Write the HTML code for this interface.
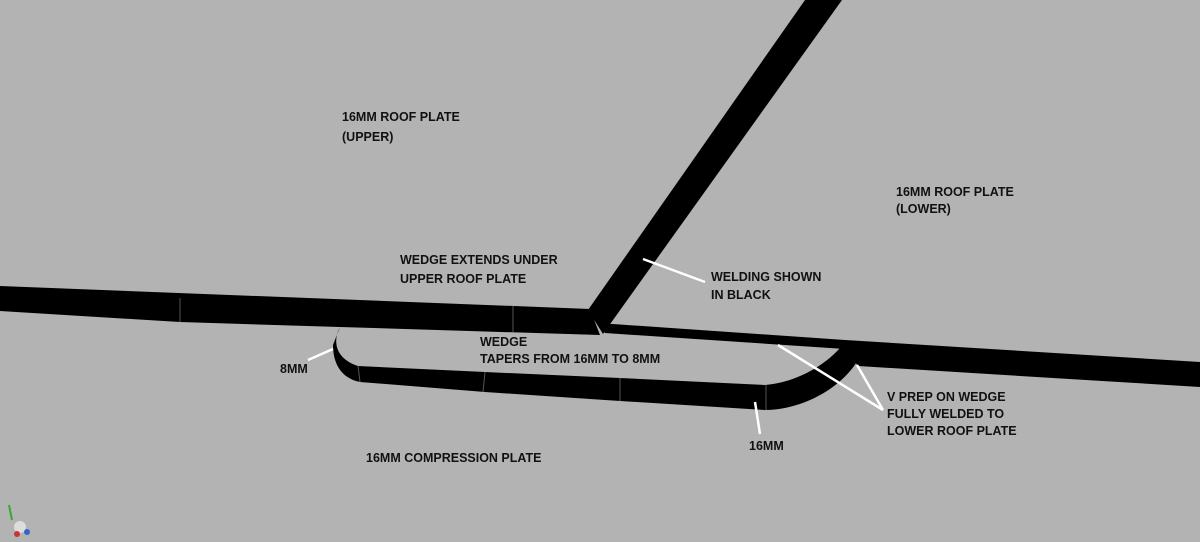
<!DOCTYPE html>
<html><head><style>
body{margin:0;background:#b3b3b3;}
svg{display:block}
text{font-family:"Liberation Sans",sans-serif;font-size:12.5px;font-weight:bold;fill:#111;}
</style></head><body>
<svg width="1200" height="542" viewBox="0 0 1200 542">
<rect width="1200" height="542" fill="#b3b3b3"/>
<!-- upper plate + wedge top band -->
<polygon points="0,286 590,309 600,335 340,327 180,322 0,311" fill="#000"/>
<!-- diagonal weld/plate -->
<polygon points="805,0 842,0 603,334 588,310" fill="#000"/>
<!-- lower roof plate -->
<polygon points="598,323 845,340 1200,362 1200,387 858,366 845,349 605,333" fill="#000"/>
<!-- wedge lower loop -->
<path d="M340,327 C333,340 334,358 358,366 L485,372 L620,378 L765,385 C800,382 830,362 845,342 L858,360 C840,390 800,410 765,410 L620,401 L485,392 L360,382 C340,378 333,362 333,345 Z" fill="#000"/>
<!-- faint seam lines -->
<g stroke="#555" stroke-width="1">
<line x1="180" y1="298" x2="180" y2="322"/>
<line x1="513" y1="306" x2="513" y2="332"/>
<line x1="358" y1="366" x2="360" y2="382"/>
<line x1="485" y1="372" x2="483" y2="392"/>
<line x1="620" y1="378" x2="620" y2="401"/>
<line x1="766" y1="385" x2="766" y2="410"/>
</g>
<!-- leaders -->
<g stroke="#fff" stroke-width="2.5">
<line x1="643" y1="259" x2="705" y2="282"/>
<line x1="308" y1="360" x2="333" y2="349"/>
<line x1="755" y1="402" x2="760" y2="434"/>
<line x1="778" y1="345" x2="883" y2="410"/>
<line x1="857" y1="365" x2="883" y2="410"/>
</g>
<text x="342" y="121">16MM ROOF PLATE</text>
<text x="342" y="141">(UPPER)</text>
<text x="896" y="196">16MM ROOF PLATE</text>
<text x="896" y="213">(LOWER)</text>
<text x="400" y="264">WEDGE EXTENDS UNDER</text>
<text x="400" y="283">UPPER ROOF PLATE</text>
<text x="711" y="281">WELDING SHOWN</text>
<text x="711" y="299">IN BLACK</text>
<text x="480" y="346">WEDGE</text>
<text x="480" y="363">TAPERS FROM 16MM TO 8MM</text>
<text x="280" y="373">8MM</text>
<text x="749" y="450">16MM</text>
<text x="887" y="401">V PREP ON WEDGE</text>
<text x="887" y="418">FULLY WELDED TO</text>
<text x="887" y="435">LOWER ROOF PLATE</text>
<text x="366" y="462">16MM COMPRESSION PLATE</text>
<circle cx="20" cy="527" r="6" fill="#ddd"/>
<circle cx="17" cy="534" r="3" fill="#c33"/>
<circle cx="27" cy="532" r="3" fill="#36c"/>
<line x1="9" y1="505" x2="12" y2="520" stroke="#3a3" stroke-width="2"/>
</svg>
</body></html>
